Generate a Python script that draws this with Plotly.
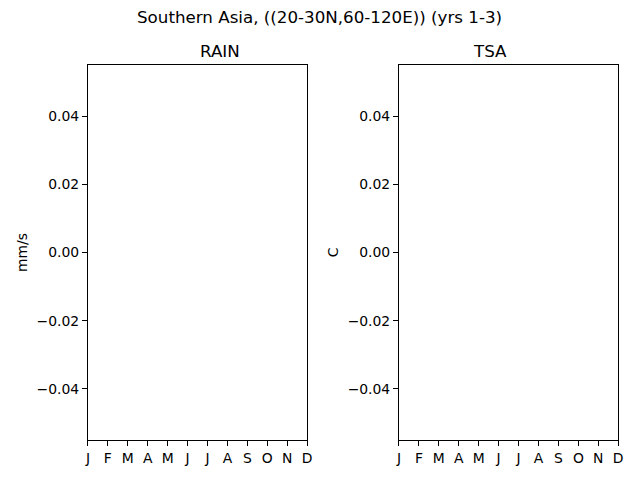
import plotly.graph_objects as go
from plotly.subplots import make_subplots

# monthly climatology (no valid data in this region/period)
month_num = [1, 2, 3, 4, 5, 6, 7, 8, 9, 10, 11, 12]
month_labels = ["J", "F", "M", "A", "M", "J", "J", "A", "S", "O", "N", "D"]
rain = [None, None, None, None, None, None, None, None, None, None, None, None]
tsa = [None, None, None, None, None, None, None, None, None, None, None, None]
yticks = [-0.04, -0.02, 0.0, 0.02, 0.04]

FONT = "DejaVu Sans"

fig = make_subplots(rows=1, cols=2)

fig.add_trace(go.Scatter(x=month_num, y=rain, mode="lines",
                         line=dict(color="#1f77b4"), showlegend=False), row=1, col=1)
fig.add_trace(go.Scatter(x=month_num, y=tsa, mode="lines",
                         line=dict(color="#1f77b4"), showlegend=False), row=1, col=2)

axis_style = dict(
    showline=True, linecolor="black", linewidth=1, mirror=True,
    ticks="outside", ticklen=5, tickwidth=1, tickcolor="black",
    showgrid=False, zeroline=False,
    tickfont=dict(family=FONT, size=13.9, color="black"),
)

fig.update_xaxes(axis_style, range=[1, 12], tickmode="array",
                 tickvals=month_num, ticktext=month_labels)
fig.update_yaxes(axis_style, range=[-0.055, 0.055], tickmode="array",
                 tickvals=yticks, tickformat=".2f")

fig.update_xaxes(domain=[86 / 640, 308 / 640], row=1, col=1)
fig.update_xaxes(domain=[401 / 640, 623 / 640], row=1, col=2)
fig.update_yaxes(domain=[40 / 480, 415 / 480])
fig.update_yaxes(title_text="mm/s", title_standoff=5,
                 title_font=dict(family=FONT, size=13.9, color="black"), row=1, col=1)
fig.update_yaxes(title_text="C", title_standoff=5,
                 title_font=dict(family=FONT, size=13.9, color="black"), row=1, col=2)

fig.add_annotation(text="RAIN", x=197 / 640, y=1 - 51 / 480, xref="paper", yref="paper",
                   yanchor="middle", showarrow=False,
                   font=dict(family=FONT, size=16.7, color="black"))
fig.add_annotation(text="TSA", x=512 / 640, y=1 - 51 / 480, xref="paper", yref="paper",
                   yanchor="middle", showarrow=False,
                   font=dict(family=FONT, size=16.7, color="black"))
fig.add_annotation(text="Southern Asia, ((20-30N,60-120E)) (yrs 1-3)", x=0.5, y=1 - 17 / 480,
                   xref="paper", yref="paper", yanchor="middle", showarrow=False,
                   font=dict(family=FONT, size=16.7, color="black"))

fig.update_layout(
    width=640, height=480,
    margin=dict(l=0, r=0, t=0, b=0),
    plot_bgcolor="white", paper_bgcolor="white",
    font=dict(family=FONT, color="black"),
)

fig.write_html("out.html", config={"displayModeBar": False},
               post_script="document.body.style.margin='0';")
